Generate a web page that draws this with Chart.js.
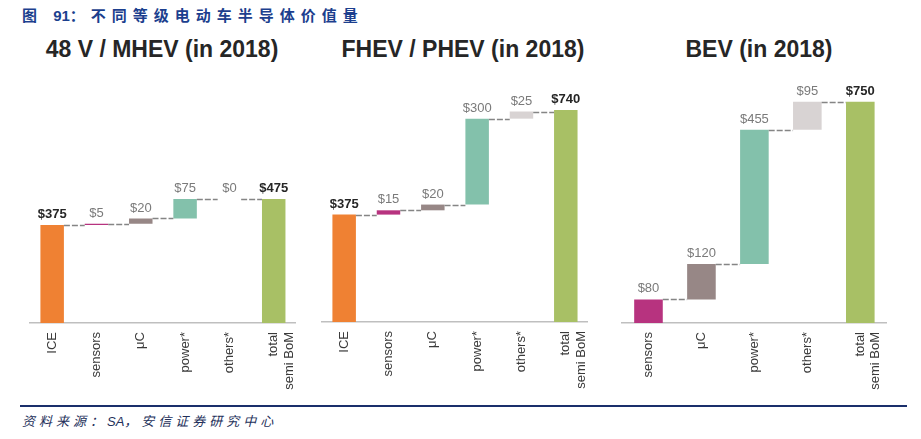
<!DOCTYPE html>
<html>
<head>
<meta charset="utf-8">
<script src="https://cdn.jsdelivr.net/npm/chart.js@4.4.1/dist/chart.umd.min.js"></script>
<style>
  html,body{margin:0;padding:0;background:#fff;width:921px;height:439px;overflow:hidden;position:relative;font-family:"Liberation Sans",Arial,sans-serif;}
  #hdr{position:absolute;left:22px;top:4px;font:bold 15px "Liberation Sans","Noto Sans CJK SC",sans-serif;color:#1c3f8e;white-space:nowrap;}
  #hdr .sp{letter-spacing:6px;}
  .ttl{position:absolute;top:36px;transform:translateX(-50%);font:bold 23px "Liberation Sans",Arial,sans-serif;color:#262626;white-space:nowrap;}
  canvas{position:absolute;}
  #rule{position:absolute;left:20px;top:405px;width:887px;height:2px;background:#1a2f6b;}
  #src{position:absolute;left:22px;top:411px;font:italic 13px "Liberation Sans","Noto Sans CJK SC",sans-serif;color:#24305a;white-space:nowrap;}
  #src .sp{letter-spacing:4px;}
</style>
</head>
<body>
<div id="hdr"><span class="sp">图 </span>91<span class="sp">：不同等级电动车半导体价值量</span></div>
<div class="ttl" style="left:162px">48 V / MHEV (in 2018)</div>
<div class="ttl" style="left:463px">FHEV / PHEV (in 2018)</div>
<div class="ttl" style="left:759px">BEV (in 2018)</div>
<canvas id="c1" width="295" height="320" style="left:20px;top:80px"></canvas>
<canvas id="c2" width="295" height="320" style="left:312px;top:80px"></canvas>
<canvas id="c3" width="290" height="320" style="left:612px;top:80px"></canvas>
<div id="rule"></div>
<div id="src"><span class="sp">资料来源：</span>SA<span class="sp">，安信证券研究中心</span></div>
<script>
// ---- data ----
const mhevCategories = ['ICE', 'sensors', 'μC', 'power*', 'others*', ['total', 'semi BoM']];
const mhevValues     = [375, 5, 20, 75, 0, 475];

const fhevCategories = ['ICE', 'sensors', 'μC', 'power*', 'others*', ['total', 'semi BoM']];
const fhevValues     = [375, 15, 20, 300, 25, 740];

const bevCategories  = ['sensors', 'μC', 'power*', 'others*', ['total', 'semi BoM']];
const bevValues      = [80, 120, 455, 95, 750];

// ---- style ----
const COLORS = {
  'ICE': '#ef8133',
  'sensors': '#b7337f',
  'μC': '#978786',
  'power*': '#83c1ab',
  'others*': '#d8d3d3',
  'total': '#a8c065'
};
const key = c => Array.isArray(c) ? c[0] : c;

function waterfallRanges(values) {
  const out = [];
  let cum = 0;
  values.forEach((v, i) => {
    if (i === values.length - 1) { out.push([0, v]); }
    else { out.push([cum, cum + v]); cum += v; }
  });
  return out;
}

const waterfallDecor = {
  id: 'waterfallDecor',
  afterDatasetsDraw(chart) {
    const ctx = chart.ctx;
    const meta = chart.getDatasetMeta(0);
    const ys = chart.scales.y;
    const data = chart.data.datasets[0].data;
    const cats = chart.data.labels;
    const vals = chart.data.datasets[0].rawValues;
    ctx.save();
    // connectors
    ctx.strokeStyle = '#858585';
    ctx.lineWidth = 1.5;
    ctx.setLineDash([6, 2]);
    for (let i = 0; i < meta.data.length - 1; i++) {
      const a = meta.data[i], b = meta.data[i + 1];
      const py = Math.round(ys.getPixelForValue(data[i][1])) + 0.5;
      ctx.beginPath();
      ctx.moveTo(a.x + a.width / 2, py);
      ctx.lineTo(b.x - b.width / 2, py);
      ctx.stroke();
    }
    ctx.setLineDash([]);
    // value labels
    ctx.textAlign = 'center';
    ctx.textBaseline = 'bottom';
    meta.data.forEach((el, i) => {
      const k = key(cats[i]);
      const bold = (k === 'ICE' || k === 'total');
      ctx.font = (bold ? 'bold ' : '') + '13px "Liberation Sans", Arial, sans-serif';
      ctx.fillStyle = bold ? '#262626' : '#7a7a7a';
      const top = ys.getPixelForValue(data[i][1]);
      ctx.fillText('$' + vals[i], el.x, top - 4);
    });
    ctx.restore();
  }
};

function makeChart(id, cats, values, yMax, axisH, padL, padR, barPct) {
  return new Chart(document.getElementById(id), {
    type: 'bar',
    data: {
      labels: cats,
      datasets: [{
        data: waterfallRanges(values),
        rawValues: values,
        backgroundColor: cats.map(c => COLORS[key(c)]),
        borderWidth: 0,
        barPercentage: barPct,
        categoryPercentage: 1
      }]
    },
    options: {
      responsive: false,
      animation: false,
      devicePixelRatio: 1,
      layout: { padding: { left: padL, right: padR, top: 0, bottom: 0 } },
      plugins: { legend: { display: false }, tooltip: { enabled: false }, title: { display: false } },
      scales: {
        x: {
          grid: { display: false, drawTicks: false },
          border: { display: true, color: '#bfbfbf', width: 1.5 },
          ticks: {
            minRotation: 90, maxRotation: 90, padding: 9,
            color: '#3a3a3a',
            font: { size: 13, family: '"Liberation Sans", Arial, sans-serif' }
          },
          afterFit: s => { s.height = axisH; }
        },
        y: { display: false, min: 0, max: yMax }
      }
    },
    plugins: [waterfallDecor]
  });
}

makeChart('c1', mhevCategories, mhevValues, 930, 77, 10, 13, 0.53);
makeChart('c2', fhevCategories, fhevValues, 845, 78, 10, 12, 0.53);
makeChart('c3', bevCategories, bevValues, 824, 77, 10, 15, 0.54);
</script>
</body>
</html>
